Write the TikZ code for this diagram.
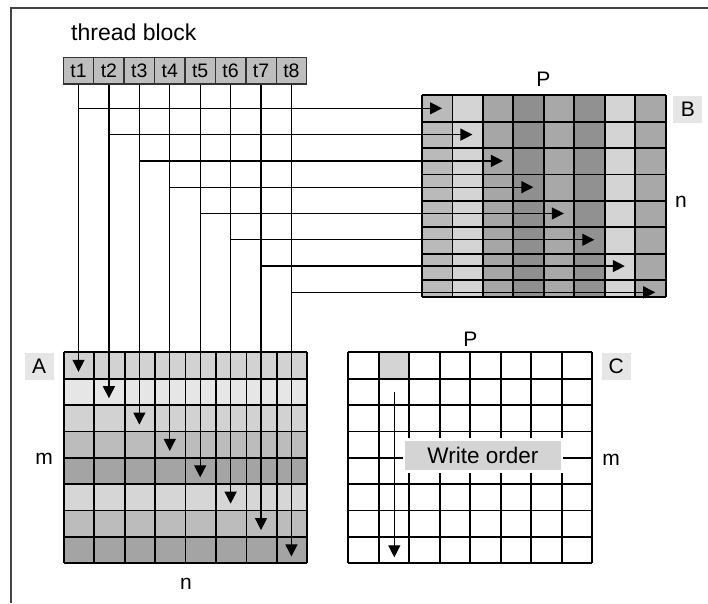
\documentclass[tikz,border=0pt]{standalone}
\usepackage{fontspec}
\setmainfont{Liberation Sans}
\usetikzlibrary{arrows.meta}
\definecolor{tgray}{HTML}{BEBEBE}
\definecolor{lblgray}{HTML}{E6E6E6}
\definecolor{wogray}{HTML}{D4D4D4}
\definecolor{framegray}{HTML}{444444}
% A rows
\definecolor{Ar1}{HTML}{D2D2D2}
\definecolor{Ar2}{HTML}{E6E6E6}
\definecolor{Ar3}{HTML}{D2D2D2}
\definecolor{Ar4}{HTML}{BCBCBC}
\definecolor{Ar5}{HTML}{A4A4A4}
\definecolor{Ar6}{HTML}{D6D6D6}
\definecolor{Ar7}{HTML}{BCBCBC}
\definecolor{Ar8}{HTML}{A4A4A4}
% B columns
\definecolor{Bc1}{HTML}{BABABA}
\definecolor{Bc2}{HTML}{D4D4D4}
\definecolor{Bc3}{HTML}{A6A6A6}
\definecolor{Bc4}{HTML}{8F8F8F}
\definecolor{Bc5}{HTML}{A8A8A8}
\definecolor{Bc6}{HTML}{919191}
\definecolor{Bc7}{HTML}{D4D4D4}
\definecolor{Bc8}{HTML}{A8A8A8}
\begin{document}
\begin{tikzpicture}[x=1pt,y=-1pt,
  conn/.style={line width=1.3pt,-{Triangle[length=12pt,width=12pt]}},
  gridline/.style={line width=1.8pt,black},
  threadcell/.style={draw=black!80,fill=tgray,line width=1.4pt,minimum width=30.42pt,minimum height=26.3pt,inner sep=0pt,font=\fontsize{19.5}{21}\selectfont},
  lblbox/.style={fill=lblgray,minimum width=29pt,minimum height=26.5pt,inner sep=0pt,font=\fontsize{21}{23}\selectfont},
  lbl/.style={inner sep=0pt,anchor=base,font=\fontsize{21}{23}\selectfont},
  frame/.style={line width=1.8pt,framegray}]
\useasboundingbox (0,0) rectangle (708,603);
\fill[white] (0,0) rectangle (708,603);
% outer frame
\draw[frame] (11,603) -- (11,8) -- (708,8);
% title
\node[inner sep=0pt,anchor=base west,font=\fontsize{23}{25}\selectfont] (title) at (71,40) {thread block};
% thread cells
\foreach \k in {1,...,8} {
  \pgfmathsetmacro\tx{63.3+30.42*(\k-0.5)}
  \node[threadcell] (t\k) at (\tx,70.85) {t\k};
}
% ---------- matrix B ----------
\foreach \j in {1,...,8} {
  \pgfmathsetmacro\bxa{422+30.46*(\j-1)}
  \fill[Bc\j] (\bxa,95.3) rectangle ({\bxa+30.46},297.3);
}
\foreach \j in {0,...,8} {
  \draw[gridline] ({422+30.46*\j},95.3) -- ({422+30.46*\j},297.3);
}
\foreach \i in {0,...,7} {
  \draw[gridline] (422,{95.3+26.4*\i}) -- (665.7,{95.3+26.4*\i});
}
\draw[gridline] (422,297.3) -- (665.7,297.3);
\node[lbl] (Ptop) at (543.3,86) {P};
\node[lblbox] (Blbl) at (687.8,109.7) {B};
\node[lbl] (nB) at (681,207.7) {n};
% ---------- matrix A ----------
\foreach \i in {1,...,8} {
  \pgfmathsetmacro\aya{352.3+26.375*(\i-1)}
  \fill[Ar\i] (63.7,\aya) rectangle (307.3,{\aya+26.375});
}
\foreach \j in {0,...,8} {
  \draw[gridline] ({63.7+30.45*\j},352.3) -- ({63.7+30.45*\j},563.3);
}
\foreach \i in {0,...,8} {
  \draw[gridline] (63.7,{352.3+26.375*\i}) -- (307.3,{352.3+26.375*\i});
}
\node[lblbox] (Albl) at (39.2,366.7) {A};
\node[lbl] (mA) at (44,464) {m};
\node[lbl] (nA) at (186,589) {n};
% ---------- matrix C ----------
\fill[wogray] (379.3,352.3) rectangle (409.8,378.675);
\foreach \j in {0,...,8} {
  \draw[gridline] ({348.3+30.5*\j},352.3) -- ({348.3+30.5*\j},563.3);
}
\foreach \i in {0,...,8} {
  \draw[gridline] (348.3,{352.3+26.375*\i}) -- (592.3,{352.3+26.375*\i});
}
\node[lbl] (Pc) at (470.3,346) {P};
\node[lblbox] (Clbl) at (616.2,366.7) {C};
\node[lbl] (mC) at (611,465) {m};
\node[fill=wogray,draw=white,line width=2.5pt,minimum width=157.7pt,minimum height=32.4pt,inner sep=0pt,font=\fontsize{22.5}{24}\selectfont] (wo) at (482.9,455.5) {Write order};
\coordinate (cs) at (394.3,391.7);
\coordinate (ce) at (394.3,557.3);
\draw[conn] (cs) -- (ce);
% ---------- thread connectors ----------
\foreach \k in {1,...,8} {
  \pgfmathsetmacro\tx{63.3+30.42*(\k-0.5)}
  \pgfmathsetmacro\ay{352.3+26.375*(\k-1)+19.5}
  \pgfmathsetmacro\hy{108.3+26.29*(\k-1)}
  \pgfmathsetmacro\bx{422+30.46*(\k-1)+20}
  \coordinate (a\k) at (\tx,\ay);
  \coordinate (h\k) at (\tx,\hy);
  \coordinate (b\k) at (\bx,\hy);
  \draw[conn] (t\k.south) -- (a\k);
  \draw[conn] (h\k) -- (b\k);
}
\end{tikzpicture}
\end{document}
